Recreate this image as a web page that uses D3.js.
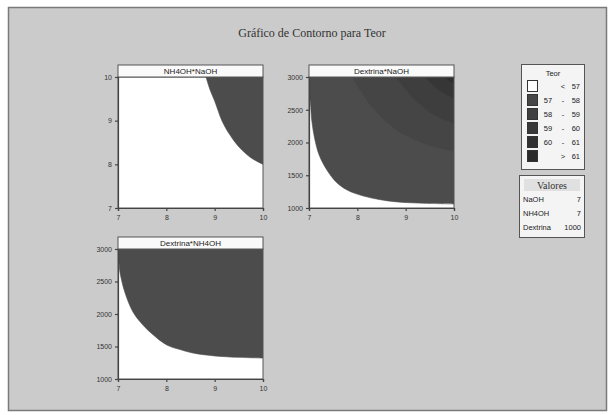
<!DOCTYPE html>
<html><head><meta charset="utf-8">
<script src="https://cdn.jsdelivr.net/npm/d3@7"></script>
<style>html,body{margin:0;padding:0;background:#fff}svg{display:block}</style>
</head><body>
<script>
// ---------- data ----------
const chartTitle = "Gráfico de Contorno para Teor";
const panelTitles = ["NH4OH*NaOH", "Dextrina*NaOH", "Dextrina*NH4OH"];
const xTicks = [7, 8, 9, 10];
const yTicksP1 = [7, 8, 9, 10];
const yTicksDex = [1000, 1500, 2000, 2500, 3000];

// contour boundaries (x, y)
// Panel 1: NaOH (x) vs NH4OH (y), Teor = 57 boundary
const p1Level57 = [[8.82,10],[8.9,9.72],[9.0,9.45],[9.15,9.0],[9.3,8.7],[9.5,8.4],[9.75,8.15],[10,8.0]];
// Panel 2: NaOH (x) vs Dextrina (y)
const p2Level57 = [[7,2790],[7.03,2600],[7.06,2320],[7.12,2050],[7.21,1810],[7.37,1580],[7.57,1390],[7.8,1270],[8.11,1186],[8.45,1130],[8.83,1093],[9.4,1072],[10,1062]];
const p2Level58 = [[7.9,3000],[8.3,2550],[8.8,2200],[9.4,1980],[10,1870]];
const p2Level59 = [[8.8,3000],[9.2,2650],[9.6,2420],[10,2300]];
const p2Level60 = [[9.4,3000],[9.7,2800],[10,2680]];
const p2Level61 = [[9.8,3000],[10,2900]];
// Panel 3: NH4OH (x) vs Dextrina (y)
const p3Level57 = [[7,2950],[7.02,2800],[7.04,2646],[7.14,2338],[7.31,2031],[7.48,1860],[7.66,1723],[8.01,1523],[8.3,1450],[8.55,1400],[9.0,1355],[9.5,1333],[10,1323]];

const legendLabels = [["<","57"],["57","58"],["58","59"],["59","60"],["60","61"],[">","61"]];
const legendColors = ["#ffffff","#4c4c4c","#454545","#3e3e3e","#363636","#2e2e2e"];
const valoresNames = ["NaOH","NH4OH","Dextrina"];
const valoresValues = [7, 7, 1000];

// ---------- drawing ----------
const W = 610, H = 415;
const svg = d3.select("body").append("svg").attr("width", W).attr("height", H);
const sans = "'Liberation Sans', Arial, sans-serif";
const serif = "'Liberation Serif', 'Times New Roman', serif";

svg.append("rect").attr("x", 8.5).attr("y", 7.5).attr("width", 598).attr("height", 403)
  .attr("fill", "#cbcbcb").attr("stroke", "#7a7a7a").attr("stroke-width", 1.5);

svg.append("text").attr("x", 312).attr("y", 37).attr("text-anchor", "middle")
  .attr("font-family", serif).attr("font-size", 12).attr("fill", "#333").text(chartTitle);

function panel(cfg) {
  const x = d3.scaleLinear().domain([7, 10]).range([cfg.x0, cfg.x1]);
  const y = d3.scaleLinear().domain(cfg.yDomain).range([cfg.y1, cfg.y0]);
  const g = svg.append("g");
  const clipId = "clip" + cfg.id;
  g.append("clipPath").attr("id", clipId).append("rect").attr("x", cfg.x0).attr("y", cfg.y0)
    .attr("width", cfg.x1 - cfg.x0).attr("height", cfg.y1 - cfg.y0);
  g.append("rect").attr("x", cfg.x0).attr("y", cfg.y0).attr("width", cfg.x1 - cfg.x0)
    .attr("height", cfg.y1 - cfg.y0).attr("fill", "#ffffff");
  const curve = d3.line().x(d => x(d[0])).y(d => y(d[1])).curve(d3.curveCatmullRom.alpha(0.5));
  const bandsG = g.append("g").attr("clip-path", `url(#${clipId})`);
  cfg.bands.forEach(b => {
    let d = curve(b.pts);
    d += "L" + x(10) + "," + y(cfg.yDomain[1]);
    if (b.pts[0][0] === 7) d += "L" + x(7) + "," + y(cfg.yDomain[1]);
    d += "Z";
    bandsG.append("path").attr("d", d).attr("fill", b.color).attr("stroke", b.color).attr("stroke-width", 0.6);
  });
  g.append("rect").attr("x", cfg.x0).attr("y", cfg.y0).attr("width", cfg.x1 - cfg.x0)
    .attr("height", cfg.y1 - cfg.y0).attr("fill", "none").attr("stroke", "#555").attr("stroke-width", 1);
  g.append("rect").attr("x", cfg.x0).attr("y", cfg.y0 - 12).attr("width", cfg.x1 - cfg.x0)
    .attr("height", 12).attr("fill", "#fafafa").attr("stroke", "#555").attr("stroke-width", 1);
  g.append("text").attr("x", (cfg.x0 + cfg.x1) / 2).attr("y", cfg.y0 - 3).attr("text-anchor", "middle")
    .attr("font-family", sans).attr("font-size", 8).attr("fill", "#222").text(cfg.title);
  const xa = g.append("g").attr("transform", `translate(0,${cfg.y1})`)
    .call(d3.axisBottom(x).tickValues(xTicks).tickFormat(d3.format("d")).tickSize(3).tickPadding(4));
  const ya = g.append("g").attr("transform", `translate(${cfg.x0},0)`)
    .call(d3.axisLeft(y).tickValues(cfg.yTicks).tickFormat(d3.format("d")).tickSize(3).tickPadding(3));
  [xa, ya].forEach(a => {
    a.selectAll("path,line").attr("stroke", "#444").attr("stroke-width", 1.2);
    a.selectAll("text").attr("font-family", sans).attr("font-size", 7).attr("fill", "#333");
  });
}

panel({id:1, x0:118, x1:263, y0:77, y1:208, yDomain:[7,10], yTicks:yTicksP1, title:panelTitles[0],
  bands:[{pts:p1Level57, color:legendColors[1]}]});
panel({id:2, x0:309, x1:454, y0:77, y1:208, yDomain:[1000,3000], yTicks:yTicksDex, title:panelTitles[1],
  bands:[{pts:p2Level57, color:legendColors[1]},{pts:p2Level58, color:legendColors[2]},
         {pts:p2Level59, color:legendColors[3]},{pts:p2Level60, color:legendColors[4]},
         {pts:p2Level61, color:legendColors[5]}]});
panel({id:3, x0:118, x1:263, y0:249, y1:379, yDomain:[1000,3000], yTicks:yTicksDex, title:panelTitles[2],
  bands:[{pts:p3Level57, color:legendColors[1]}]});

// legend: Teor
const lg = svg.append("g");
lg.append("rect").attr("x", 521.5).attr("y", 64.5).attr("width", 63).attr("height", 105)
  .attr("fill", "#f4f4f4").attr("stroke", "#555").attr("stroke-width", 1);
lg.append("text").attr("x", 553).attr("y", 76).attr("text-anchor", "middle")
  .attr("font-family", sans).attr("font-size", 7.5).attr("fill", "#222").text("Teor");
const rowY = d3.scaleBand().domain(d3.range(legendLabels.length)).range([80, 164]);
legendLabels.forEach((lab, i) => {
  const yy = rowY(i);
  lg.append("rect").attr("x", 527.5).attr("y", yy + 0.5).attr("width", 10).attr("height", 11)
    .attr("fill", i === 0 ? "#ffffff" : d3.color(legendColors[i]).darker(0.25)).attr("stroke", "#333").attr("stroke-width", 1);
  const ty = yy + 9;
  const t = (xx, s, anchor) => lg.append("text").attr("x", xx).attr("y", ty).attr("text-anchor", anchor)
    .attr("font-family", sans).attr("font-size", 7.5).attr("fill", "#222").text(s);
  if (lab[0] === "<" || lab[0] === ">") {
    t(563, lab[0], "middle");
  } else {
    t(548, lab[0], "middle");
    t(563, "-", "middle");
  }
  t(580, lab[1], "end");
});

// legend: Valores
const vg = svg.append("g");
vg.append("rect").attr("x", 519.5).attr("y", 175.5).attr("width", 65).attr("height", 62)
  .attr("fill", "#f4f4f4").attr("stroke", "#555").attr("stroke-width", 1);
vg.append("rect").attr("x", 524).attr("y", 179).attr("width", 56).attr("height", 12).attr("fill", "#e0e0e0");
vg.append("text").attr("x", 552).attr("y", 189).attr("text-anchor", "middle")
  .attr("font-family", serif).attr("font-size", 10).attr("fill", "#333").text("Valores");
valoresNames.forEach((n, i) => {
  const ty = 202 + i * 14;
  vg.append("text").attr("x", 523).attr("y", ty).attr("font-family", sans).attr("font-size", 7.5)
    .attr("fill", "#222").text(n);
  vg.append("text").attr("x", 581).attr("y", ty).attr("text-anchor", "end").attr("font-family", sans)
    .attr("font-size", 7.5).attr("fill", "#222").text(valoresValues[i]);
});
</script>
</body></html>
